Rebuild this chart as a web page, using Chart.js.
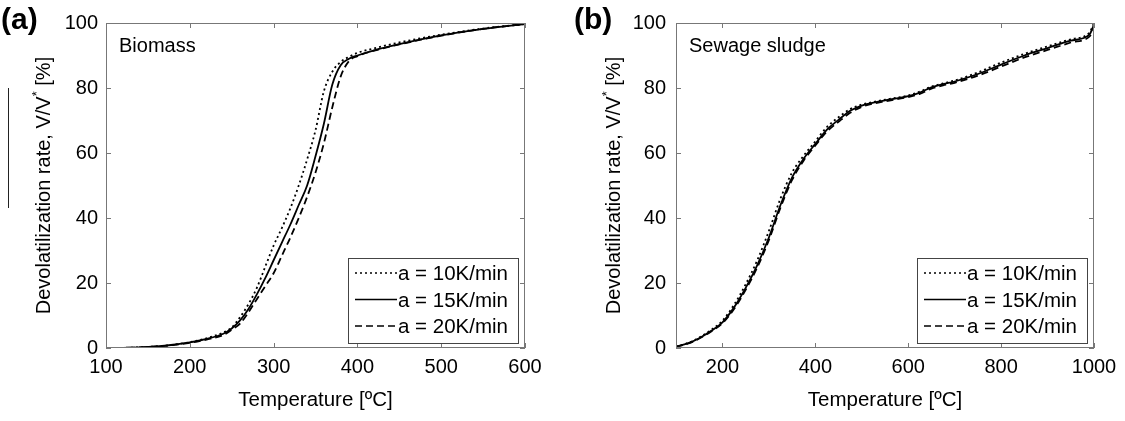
<!DOCTYPE html>
<html>
<head>
<meta charset="utf-8">
<script src="https://cdn.jsdelivr.net/npm/chart.js@4.4.1/dist/chart.umd.min.js"></script>
<style>
  body { margin: 0; background: #fff; }
  .panel { position: absolute; top: 0; height: 421px; }
  #panelA { left: 0; width: 560px; }
  #panelB { left: 560px; width: 565px; }
  #marca { position: absolute; left: 8px; top: 88px; width: 1px; height: 120px; background: #222; }
</style>
</head>
<body>
<div id="marca"></div>
<div class="panel" id="panelA"><canvas id="graficoA" width="560" height="421"></canvas></div>
<div class="panel" id="panelB"><canvas id="graficoB" width="565" height="421"></canvas></div>
<script>
// Biomasa: temperatura (ºC) y devolatilización acumulada (%) para cada velocidad
const tempBiomasa = [100, 120, 140, 160, 180, 200, 220, 240, 250, 260, 270, 280, 290, 300, 310, 320, 330, 340, 350, 360, 370, 380, 390, 400, 420, 450, 500, 550, 600];
const biomasa10 = [0, 0.05, 0.2, 0.5, 1.0, 1.8, 3.0, 4.8, 6.3, 9.5, 13.5, 18.5, 25, 31.5, 37, 43, 50, 58, 67, 79, 85, 88, 89.6, 90.8, 92.2, 94, 96.4, 98.3, 99.7];
const biomasa15 = [0, 0.05, 0.2, 0.5, 1.0, 1.7, 2.8, 4.4, 6.0, 8.5, 12, 16.5, 21.5, 27, 32.5, 38, 44, 50, 59, 69, 81, 87, 89, 90, 91.6, 93.5, 96.2, 98.2, 99.7];
const biomasa20 = [0, 0.05, 0.2, 0.5, 0.9, 1.6, 2.6, 4.0, 5.6, 7.5, 11, 15, 19, 23, 28.5, 34, 40, 46.5, 54, 63, 74, 83.5, 88.3, 89.8, 91.5, 93.4, 96.1, 98.2, 99.7];

// Lodo de depuradora
const tempLodo = [100, 125, 150, 175, 200, 225, 250, 275, 300, 325, 350, 375, 400, 425, 450, 475, 500, 525, 550, 600, 625, 650, 675, 700, 750, 800, 850, 900, 950, 990, 1000];
const lodo10 = [0.4, 1.5, 3.2, 5.5, 8.4, 13.3, 19.6, 27, 36, 46, 54, 59.2, 63.6, 68, 71, 73.5, 74.9, 75.7, 76.4, 77.7, 78.9, 80.4, 81.4, 82.3, 84.8, 87.8, 90.5, 92.8, 95.0, 97, 100];
const lodo15 = [0.4, 1.4, 3.0, 5.2, 7.9, 12.5, 18.5, 25.5, 34, 44, 52.5, 58.3, 62.8, 67.2, 70.2, 73, 74.6, 75.5, 76.2, 77.5, 78.6, 80.2, 81.2, 82.0, 84.3, 87.2, 90.0, 92.3, 94.6, 96.4, 99.5];
const lodo20 = [0.4, 1.3, 2.9, 5.0, 7.6, 12.0, 17.9, 24.8, 33.2, 43.2, 51.7, 57.7, 62.3, 66.6, 69.6, 72.4, 74.2, 75.2, 75.9, 77.2, 78.2, 79.8, 80.8, 81.6, 83.8, 86.6, 89.4, 91.7, 94.0, 95.8, 98];

const etiquetas = ['a = 10K/min', 'a = 15K/min', 'a = 20K/min'];
const ticksXA = [100, 200, 300, 400, 500, 600];
const ticksXB = [200, 400, 600, 800, 1000];
const ticksY = [0, 20, 40, 60, 80, 100];

const fuente = "'Liberation Sans', Arial, sans-serif";
const colorTexto = '#000';
const colorEje = '#777';

function puntos(xs, ys) {
    return xs.map((x, i) => ({ x: x, y: ys[i] }));
}

function serie(label, xs, ys, dash) {
    return {
        label: label,
        data: puntos(xs, ys),
        borderColor: '#000',
        borderWidth: 1.8,
        borderDash: dash,
        pointRadius: 0,
        fill: false,
        cubicInterpolationMode: 'monotone'
    };
}

function crearPanel(idCanvas, p) {
    // Caja completa con marcas hacia dentro (estilo MATLAB)
    const pluginMarco = {
        id: 'marco',
        afterDatasetsDraw: (chart) => {
            const { ctx, chartArea: { left, right, top, bottom }, scales: { x, y } } = chart;
            ctx.save();
            ctx.strokeStyle = colorEje;
            ctx.lineWidth = 1;
            ctx.setLineDash([]);
            ctx.strokeRect(left + 0.5, top + 0.5, right - left - 1, bottom - top - 1);
            ctx.beginPath();
            x.ticks.forEach(t => {
                const px = Math.round(x.getPixelForValue(t.value)) + 0.5;
                ctx.moveTo(px, bottom); ctx.lineTo(px, bottom - 5);
                ctx.moveTo(px, top); ctx.lineTo(px, top + 5);
            });
            y.ticks.forEach(t => {
                const py = Math.round(y.getPixelForValue(t.value)) + 0.5;
                ctx.moveTo(left, py); ctx.lineTo(left + 5, py);
                ctx.moveTo(right, py); ctx.lineTo(right - 5, py);
            });
            ctx.stroke();
            ctx.restore();
        }
    };

    // Letra del panel, nombre de la muestra, título del eje Y y leyenda
    const pluginTextos = {
        id: 'textos',
        afterDraw: (chart) => {
            const { ctx, chartArea: { left, right, top, bottom } } = chart;
            ctx.save();
            ctx.fillStyle = colorTexto;
            ctx.textBaseline = 'alphabetic';
            ctx.textAlign = 'left';

            ctx.font = 'bold 30px ' + fuente;
            ctx.fillText(p.letra, p.letraX, 29);

            ctx.font = '20px ' + fuente;
            ctx.fillText(p.muestra, left + 13, 52);

            // Título vertical con el asterisco en superíndice
            const partes = ['Devolatilization rate, V/V', '*', ' [%]'];
            ctx.font = '20px ' + fuente;
            const w1 = ctx.measureText(partes[0]).width;
            const w3 = ctx.measureText(partes[2]).width;
            ctx.font = '13px ' + fuente;
            const w2 = ctx.measureText(partes[1]).width;
            const total = w1 + w2 + w3;
            ctx.translate(p.tituloYX, (top + bottom) / 2);
            ctx.rotate(-Math.PI / 2);
            ctx.font = '20px ' + fuente;
            ctx.fillText(partes[0], -total / 2, 0);
            ctx.font = '13px ' + fuente;
            ctx.fillText(partes[1], -total / 2 + w1, -9);
            ctx.font = '20px ' + fuente;
            ctx.fillText(partes[2], -total / 2 + w1 + w2, 0);
            ctx.setTransform(1, 0, 0, 1, 0, 0);

            // Leyenda
            const ancho = 170, alto = 85;
            const x0 = right - 7 - ancho;
            const y0 = bottom - 5 - alto;
            ctx.fillStyle = '#fff';
            ctx.fillRect(x0, y0, ancho, alto);
            ctx.strokeStyle = '#444';
            ctx.lineWidth = 1;
            ctx.strokeRect(x0 + 0.5, y0 + 0.5, ancho, alto);
            chart.data.datasets.forEach((ds, i) => {
                const yc = y0 + 15 + i * 26.5;
                ctx.strokeStyle = ds.borderColor;
                ctx.lineWidth = 1.5;
                ctx.setLineDash(ds.borderDash || []);
                ctx.beginPath();
                ctx.moveTo(x0 + 7, yc);
                ctx.lineTo(x0 + 49, yc);
                ctx.stroke();
                ctx.setLineDash([]);
                ctx.fillStyle = colorTexto;
                ctx.font = '20.5px ' + fuente;
                ctx.fillText(ds.label, x0 + 50, yc + 7);
            });
            ctx.restore();
        }
    };

    return new Chart(document.getElementById(idCanvas), {
        type: 'line',
        data: {
            datasets: [
                serie(etiquetas[0], p.temp, p.s10, [2, 3]),
                serie(etiquetas[1], p.temp, p.s15, []),
                serie(etiquetas[2], p.temp, p.s20, [7, 4])
            ]
        },
        plugins: [pluginMarco, pluginTextos],
        options: {
            responsive: false,
            animation: false,
            layout: { padding: { top: 23, right: p.derecha, bottom: 0, left: 0 } },
            plugins: { legend: { display: false }, tooltip: { enabled: false } },
            scales: {
                x: {
                    type: 'linear',
                    min: p.xMin,
                    max: p.xMax,
                    afterBuildTicks: (s) => { s.ticks = p.ticksX.map(v => ({ value: v })); },
                    afterFit: (s) => { s.height = 73; },
                    grid: { display: false, drawTicks: false },
                    border: { display: false },
                    ticks: { color: colorTexto, font: { family: fuente, size: 20 }, padding: 7, maxRotation: 0, autoSkip: false, callback: (v) => String(v) },
                    title: { display: true, text: 'Temperature [ºC]', color: colorTexto, font: { family: fuente, size: 20.5 }, padding: { top: 0, bottom: 8 } }
                },
                y: {
                    min: 0,
                    max: 100,
                    afterBuildTicks: (s) => { s.ticks = ticksY.map(v => ({ value: v })); },
                    afterFit: (s) => { s.width = p.izquierda; },
                    grid: { display: false, drawTicks: false },
                    border: { display: false },
                    ticks: { color: colorTexto, font: { family: fuente, size: 20 }, padding: p.padY, callback: (v) => String(v) }
                }
            }
        }
    });
}

crearPanel('graficoA', {
    letra: '(a)', letraX: 1, muestra: 'Biomass', tituloYX: 50,
    temp: tempBiomasa, s10: biomasa10, s15: biomasa15, s20: biomasa20,
    xMin: 100, xMax: 600, ticksX: ticksXA,
    izquierda: 106, derecha: 35, padY: 8
});

crearPanel('graficoB', {
    letra: '(b)', letraX: 14, muestra: 'Sewage sludge', tituloYX: 60,
    temp: tempLodo, s10: lodo10, s15: lodo15, s20: lodo20,
    xMin: 100, xMax: 1000, ticksX: ticksXB,
    izquierda: 116, derecha: 31, padY: 10
});
</script>
</body>
</html>
